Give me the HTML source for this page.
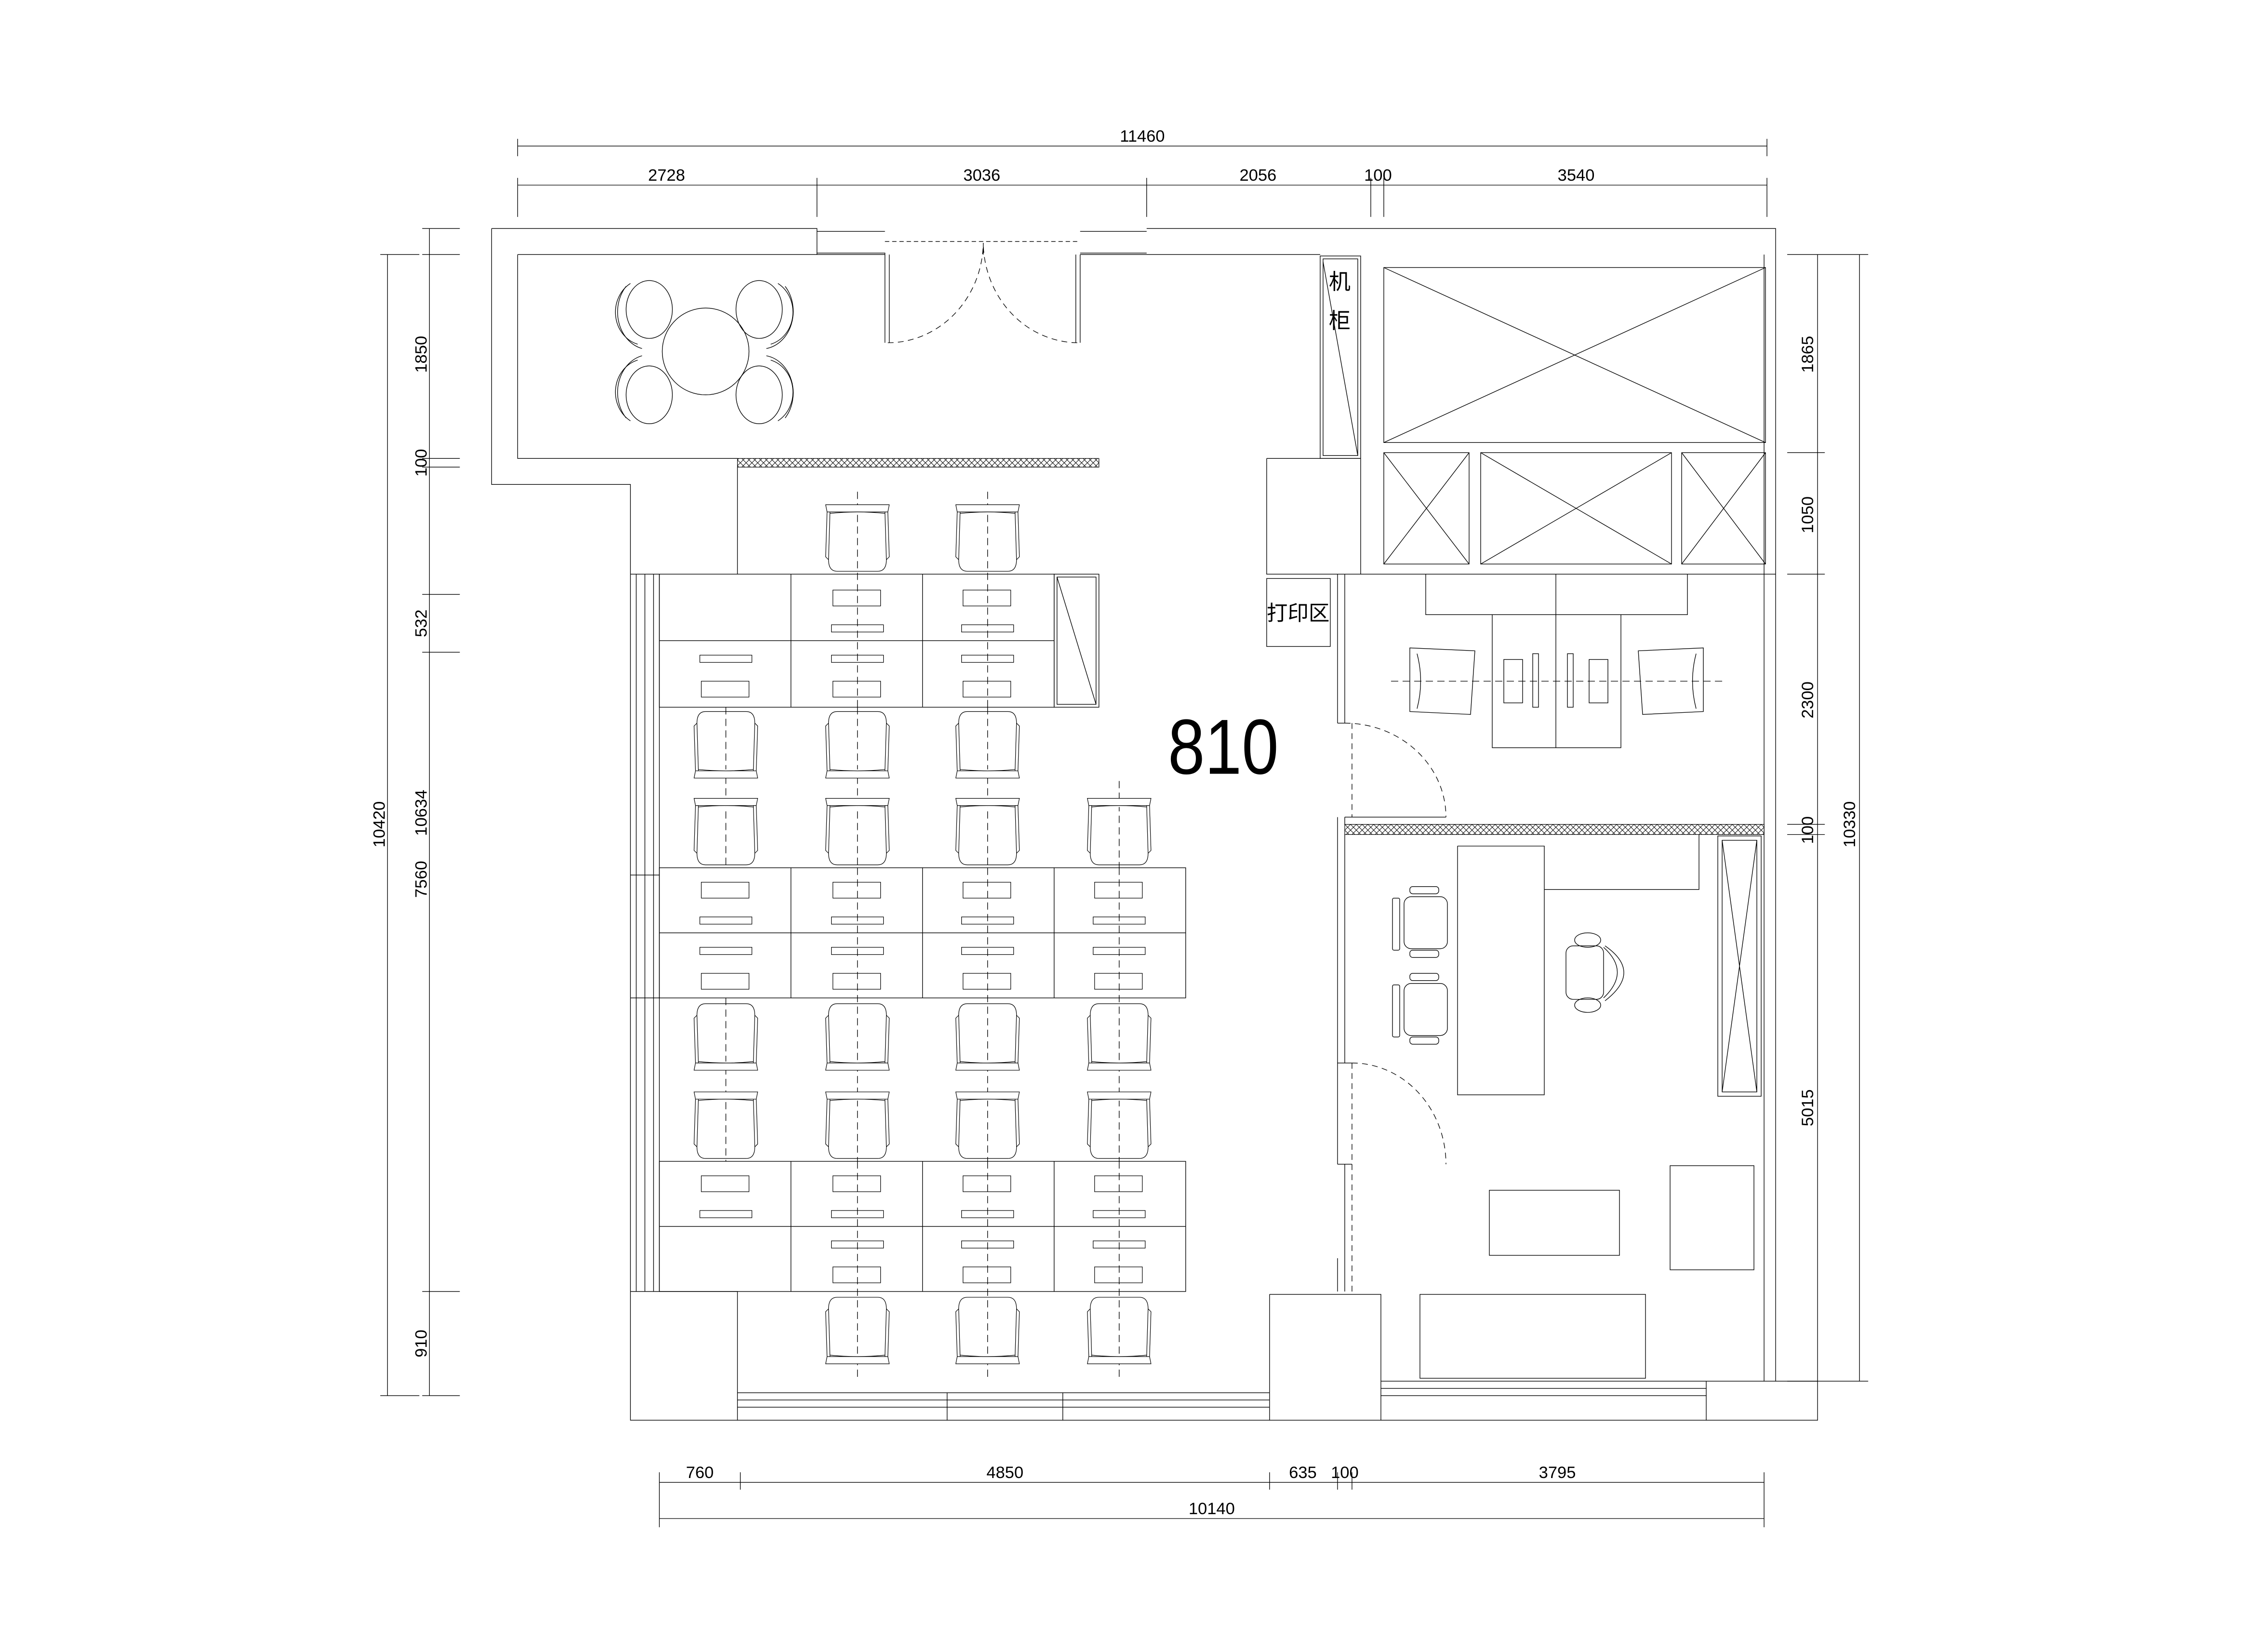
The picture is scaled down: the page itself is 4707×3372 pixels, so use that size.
<!DOCTYPE html>
<html><head><meta charset="utf-8"><style>
html,body{margin:0;padding:0;background:#fff}
svg{display:block}
text{font-family:"Liberation Sans","Noto Sans CJK SC",sans-serif;fill:#000}
</style></head><body>
<svg width="4707" height="3372" viewBox="0 0 1568.5 1123.6" preserveAspectRatio="none" xmlns="http://www.w3.org/2000/svg">
<defs>
<pattern id="h" width="4" height="4" patternUnits="userSpaceOnUse"><rect width="4" height="4" fill="#fff"/><path d="M0 0L4 4M4 0L0 4" stroke="#000" stroke-width="0.35"/></pattern>
<g id="chair" fill="#fff" stroke="#000" stroke-width="0.4">
<path d="M-22 0 L22 0 L21 5 L-21 5 Z"/>
<path d="M-19 6 Q0 4 19 6"/>
<path d="M-21 5 L-22 36 L-20 38 M21 5 L22 36 L20 38"/>
<path d="M-19 5 L-20 38 Q-20 46 -14 46 L14 46 Q20 46 20 38 L19 5" fill="none"/>
</g>
<g id="dd" fill="none" stroke="#000" stroke-width="0.4">
<rect x="-17" y="0" width="33" height="11"/>
<rect x="-18" y="24" width="36" height="5"/>
</g>
<g id="du" fill="none" stroke="#000" stroke-width="0.4">
<rect x="-18" y="0" width="36" height="5"/>
<rect x="-17" y="18" width="33" height="11"/>
</g>
</defs>
<g fill="none" stroke="#000" stroke-width="0.45">
<path d="M358 101H1222 M358 96V108 M1222 96V108 M358 128H1222"/>
<path d="M358 123V150 M565 123V150 M793 123V150 M948 123V150 M957 123V150 M1222 123V150"/>
<path d="M268 176V965 M263 176H290 M263 965H290 M297 158V965"/>
<path d="M292 158H318 M292 176H318 M292 317H318 M292 323H318 M292 411H318 M292 451H318 M292 893H318 M292 965H318"/>
<path d="M1257 176V955 M1286 176V955 M1236 176H1292 M1236 313H1262 M1236 397H1262 M1236 570H1262 M1236 577H1262 M1236 955H1292"/>
<path d="M456 1025H1220 M456 1050H1220 M456 1018V1056 M512 1018V1030 M878 1018V1030 M925 1018V1030 M935 1018V1030 M1220 1018V1056"/>
<path d="M340 158H565 V176 M565 160H612 M565 175H612 V176"/>
<path d="M747 160H793 M747 175H793 M793 158H1228 V955"/>
<path d="M358 176H612 M747 176H913 M340 158V335 H436 V982 H955 M358 176V317 H510 M510 323V397 M436 397H456"/>
<path d="M612 176V237 M615 176V237 M744 176V237 M747 176V237"/>
<path d="M612 167H747" stroke-dasharray="3 2"/>
<path d="M680 168V176" />
<path d="M614 237 A66 70 0 0 0 680 168 M745 237 A66 70 0 0 1 680 168" stroke-dasharray="4 3"/>
<path d="M1220 176V955"/>
<path d="M440 397V893 M446 397V893 M452 397V893 M456 397V893 M436 605H456 M436 690H456"/>
<path d="M436 893H510 V982"/>
<path d="M510 963H878 M510 968H878 M510 973H878 M655 963V982 M735 963V982 M878 895H955 V982 M878 895V982"/>
<path d="M955 955H1257 V982 H955 M955 960H1180 M955 965H1180 M1180 955V982"/>
</g>
<rect x="510" y="317" width="250" height="6" fill="url(#h)" stroke="#000" stroke-width="0.4"/>
<rect x="930" y="570" width="290" height="7" fill="url(#h)" stroke="#000" stroke-width="0.4"/>
<g fill="none" stroke="#000" stroke-width="0.45">
<circle cx="488" cy="243" r="30"/>
<ellipse cx="449" cy="214" rx="16" ry="20"/><path d="M436 196 A21 23 0 0 0 441 238" />
<ellipse cx="525" cy="214" rx="16" ry="20"/><path d="M538 196 A21 23 0 0 1 533 238"/>
<ellipse cx="449" cy="273" rx="16" ry="20"/><path d="M436 291 A21 23 0 0 1 441 249"/>
<ellipse cx="525" cy="273" rx="16" ry="20"/><path d="M538 291 A21 23 0 0 0 533 249"/>
<path d="M433 198 A22 26 0 0 0 444 241 M543 198 A22 26 0 0 1 530 241 M433 289 A22 26 0 0 1 444 246 M543 289 A22 26 0 0 0 530 246"/>
<rect x="913" y="177" width="28" height="140"/><rect x="915" y="179" width="24" height="136"/>
<path d="M915 181 L939 315"/>
<rect x="957" y="185" width="264" height="121"/><path d="M957 185L1221 306 M1221 185L957 306"/>
<rect x="957" y="313" width="59" height="77"/><path d="M957 313L1016 390M1016 313L957 390"/>
<rect x="1024" y="313" width="132" height="77"/><path d="M1024 313L1156 390M1156 313L1024 390"/>
<rect x="1163" y="313" width="58" height="77"/><path d="M1163 313L1221 390M1221 313L1163 390"/>
<path d="M941 317V397 M876 317H941 M876 317V397 H1228"/>
<rect x="876" y="400" width="44" height="47"/>
<path d="M925 397V500 M930 397V500 M925 500H930 M925 565V577 M930 565V570 M930 565H1000 M930 577V735 M925 577V805 M930 805V870 M925 870V893 M930 870V893 M925 735H935 M925 805H935"/>
<path d="M930 500 A70 65 0 0 1 1000 565" stroke-dasharray="4 3"/>
<path d="M935 735 A65 70 0 0 1 1000 805" stroke-dasharray="4 3"/>
<path d="M935 500V565 M935 735V893" stroke-dasharray="4 3"/>
<path d="M986 397V425 H1167 V397 M1032 425V517 H1121 V425 M1076 397V517"/>
<rect x="1040" y="456" width="13" height="30"/><rect x="1060" y="452" width="4" height="37"/>
<rect x="1084" y="452" width="4" height="37"/><rect x="1099" y="456" width="13" height="30"/>
<path d="M962 471H1192" stroke-dasharray="5 3"/>
<path d="M975 448 L1020 450 L1017 494 L975 492 Z M980 452 Q985 471 980 490"/>
<path d="M1178 448 L1133 450 L1136 494 L1178 492 Z M1173 452 Q1168 471 1173 490"/>
<path d="M1008 585V757 H1068 V615 H1175 V577 M1008 585H1068 V615"/>
<rect x="1188" y="578" width="30" height="180"/><rect x="1191" y="581" width="24" height="174"/>
<path d="M1191 581L1203 668L1215 581 M1191 755L1203 668L1215 755"/>
<rect x="971" y="620" width="30" height="36" rx="5"/><rect x="963" y="621" width="5" height="36" rx="1"/><rect x="975" y="613" width="20" height="5" rx="2"/><rect x="975" y="657" width="20" height="5" rx="2"/>
<rect x="971" y="680" width="30" height="36" rx="5"/><rect x="963" y="681" width="5" height="36" rx="1"/><rect x="975" y="673" width="20" height="5" rx="2"/><rect x="975" y="717" width="20" height="5" rx="2"/>
<rect x="1083" y="654" width="26" height="37" rx="5"/><ellipse cx="1098" cy="650" rx="9" ry="5"/><ellipse cx="1098" cy="695" rx="9" ry="5"/><path d="M1109 655 Q1128 672 1109 690 M1110 654 Q1136 672 1110 692"/>
<rect x="1030" y="823" width="90" height="45"/>
<rect x="1155" y="806" width="58" height="72"/>
<rect x="982" y="895" width="156" height="58"/>
<rect x="456" y="397" width="273" height="92"/><path d="M456 443H729 M547 397V489 M638 397V489"/>
<rect x="729" y="397" width="31" height="92"/><rect x="731" y="399" width="27" height="88"/><path d="M731 399L758 487"/>
<rect x="456" y="600" width="364" height="90"/><path d="M456 645H820 M547 600V690 M638 600V690 M729 600V690"/>
<rect x="456" y="803" width="364" height="90"/><path d="M456 848H820 M547 803V893 M638 803V893 M729 803V893"/>
<g stroke-dasharray="5 3">
<path d="M593 340V490 M683 340V490 M502 489V600 M593 489V600 M683 489V600 M774 540V600"/>
<path d="M502 690V803 M593 600V803 M683 600V803 M774 600V803 M593 803V955 M683 803V955 M774 803V955"/>
</g>
</g>
<use href="#dd" x="593" y="408"/><use href="#dd" x="683" y="408"/>
<use href="#du" x="502" y="453"/><use href="#du" x="593" y="453"/><use href="#du" x="683" y="453"/>
<use href="#dd" x="502" y="610"/><use href="#dd" x="593" y="610"/><use href="#dd" x="683" y="610"/><use href="#dd" x="774" y="610"/>
<use href="#du" x="502" y="655"/><use href="#du" x="593" y="655"/><use href="#du" x="683" y="655"/><use href="#du" x="774" y="655"/>
<use href="#dd" x="502" y="813"/><use href="#dd" x="593" y="813"/><use href="#dd" x="683" y="813"/><use href="#dd" x="774" y="813"/>
<use href="#du" x="593" y="858"/><use href="#du" x="683" y="858"/><use href="#du" x="774" y="858"/>
<use href="#chair" x="593" y="349"/><use href="#chair" x="683" y="349"/>
<use href="#chair" x="502" y="552"/><use href="#chair" x="593" y="552"/><use href="#chair" x="683" y="552"/><use href="#chair" x="774" y="552"/>
<use href="#chair" x="502" y="755"/><use href="#chair" x="593" y="755"/><use href="#chair" x="683" y="755"/><use href="#chair" x="774" y="755"/>
<g transform="translate(0,1028) scale(1,-1)">
<use href="#chair" x="502" y="490"/><use href="#chair" x="593" y="490"/><use href="#chair" x="683" y="490"/>
</g>
<g transform="translate(0,1432) scale(1,-1)">
<use href="#chair" x="502" y="692"/><use href="#chair" x="593" y="692"/><use href="#chair" x="683" y="692"/><use href="#chair" x="774" y="692"/>
</g>
<g transform="translate(0,1838) scale(1,-1)">
<use href="#chair" x="593" y="895"/><use href="#chair" x="683" y="895"/><use href="#chair" x="774" y="895"/>
</g>
<g font-size="11.5" text-anchor="middle">
<text x="790" y="98">11460</text>
<text x="461" y="125">2728</text><text x="679" y="125">3036</text><text x="870" y="125">2056</text><text x="953" y="125">100</text><text x="1090" y="125">3540</text>
<text x="484" y="1022">760</text><text x="695" y="1022">4850</text><text x="901" y="1022">635</text><text x="930" y="1022">100</text><text x="1077" y="1022">3795</text>
<text x="838" y="1047">10140</text>
<text transform="translate(266,570) rotate(-90)">10420</text>
<text transform="translate(295,245) rotate(-90)">1850</text>
<text transform="translate(295,320) rotate(-90)">100</text>
<text transform="translate(295,431) rotate(-90)">532</text>
<text transform="translate(295,562) rotate(-90)">10634</text>
<text transform="translate(295,608) rotate(-90)">7560</text>
<text transform="translate(295,929) rotate(-90)">910</text>
<text transform="translate(1254,245) rotate(-90)">1865</text>
<text transform="translate(1254,356) rotate(-90)">1050</text>
<text transform="translate(1254,484) rotate(-90)">2300</text>
<text transform="translate(1254,574) rotate(-90)">100</text>
<text transform="translate(1254,766) rotate(-90)">5015</text>
<text transform="translate(1283,570) rotate(-90)">10330</text>
</g>
<g font-size="15">
<text x="919" y="200">机</text><text x="919" y="227">柜</text>
<text x="876" y="429" font-size="14.5">打印区</text>
</g>
<text x="846" y="535" font-size="54" text-anchor="middle" transform="translate(846,535) scale(0.85,1) translate(-846,-535)">810</text>
</svg>
</body></html>
